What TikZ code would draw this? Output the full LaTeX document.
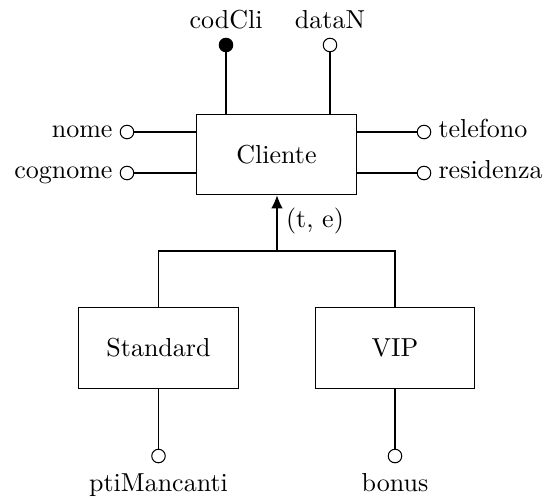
\documentclass[tikz,border=0pt]{standalone}
\usetikzlibrary{arrows.meta}
\begin{document}
\begin{tikzpicture}[x=0.3846pt,y=-0.3846pt,
  entity/.style={draw,minimum width=61.2pt,minimum height=31pt,inner sep=0pt},
  attr/.style={draw,circle,fill=white,minimum size=5.2pt,inner sep=0pt},
  keyattr/.style={draw,circle,fill=black,minimum size=5.2pt,inner sep=0pt},
  lbl/.style={inner sep=0pt}]
\useasboundingbox (0,0) rectangle (551,499);
% entities
\node[entity] (cliente) at (276.5,154.5) {Cliente};
\node[entity] (standard) at (158.5,348) {Standard};
\node[entity] (vip) at (395,348) {VIP};
% top attributes
\node[keyattr] (codCli) at (226,45) {};
\node[attr] (dataN) at (330,45) {};
\node[lbl,anchor=base] (codClil) at (226,28) {codCli};
\node[lbl,anchor=base] (dataNl) at (330,28) {dataN};
\draw (codCli) -- (codCli |- cliente.north);
\draw (dataN) -- (dataN |- cliente.north);
% left attributes
\node[attr] (nome) at (127,132) {};
\node[attr] (cognome) at (127,173) {};
\node[lbl,anchor=mid east] (nomel) at (113,132) {nome};
\node[lbl,anchor=mid east] (cognomel) at (113,173) {cognome};
\draw (nome) -- (nome -| cliente.west);
\draw (cognome) -- (cognome -| cliente.west);
% right attributes
\node[attr] (telefono) at (424,132) {};
\node[attr] (residenza) at (424,173) {};
\node[lbl,anchor=mid west] (telefonol) at (438,132) {telefono};
\node[lbl,anchor=mid west] (residenzal) at (438,173) {residenza};
\draw (telefono) -- (telefono -| cliente.east);
\draw (residenza) -- (residenza -| cliente.east);
% generalization
\coordinate (j) at (277,251);
\draw (standard.north) |- (j) -| (vip.north);
\draw[-{Latex[length=5pt,width=4.4pt]}] (j) -- (j |- cliente.south);
\node[lbl] (te) at (315,221) {(t, e)};
% bottom attributes
\node[attr] (pti) at (158.5,456) {};
\node[attr] (bonus) at (395,456) {};
\node[lbl,anchor=base] (ptil) at (158.5,491) {ptiMancanti};
\node[lbl,anchor=base] (bonusl) at (395,491) {bonus};
\draw (pti) -- (standard.south);
\draw (bonus) -- (vip.south);
\end{tikzpicture}
\end{document}
